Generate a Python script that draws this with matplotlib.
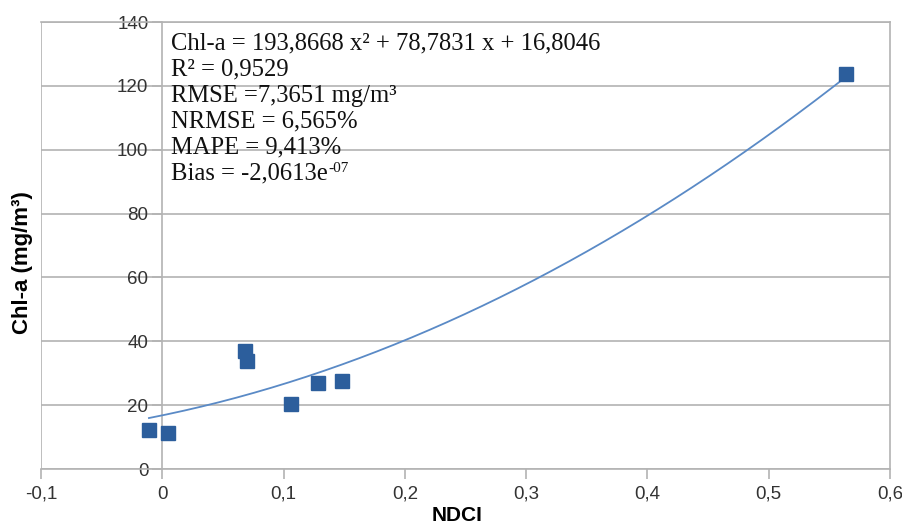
import numpy as np
import matplotlib
matplotlib.use("Agg")
import matplotlib.pyplot as plt

# dados
ndci = [-0.011, 0.005, 0.068, 0.070, 0.106, 0.128, 0.148, 0.564]
chla = [12.3, 11.4, 37.0, 33.8, 20.4, 26.9, 27.6, 123.7]

# ajuste polinomial (coeficientes do texto)
coef = [193.8668, 78.7831, 16.8046]

xticks = [-0.1, 0, 0.1, 0.2, 0.3, 0.4, 0.5, 0.6]
xtick_labels = ["-0,1", "0", "0,1", "0,2", "0,3", "0,4", "0,5", "0,6"]
yticks = [0, 20, 40, 60, 80, 100, 120, 140]

stats_lines = [
    "Chl-a = 193,8668 x² + 78,7831 x + 16,8046",
    "R² = 0,9529",
    "RMSE =7,3651 mg/m³",
    "NRMSE = 6,565%",
    "MAPE = 9,413%",
    "Bias = -2,0613e",
]
bias_exp = "-07"

grid_col = "#b3b3b3"

fig = plt.figure(figsize=(9.03, 5.26), dpi=100)
ax = fig.add_axes([41 / 903, 1 - 469 / 526, 849 / 903, 447 / 526])

ax.set_xlim(-0.1, 0.6)
ax.set_ylim(0, 140)

# linha de tendência
xs = np.linspace(min(ndci), max(ndci), 200)
ax.plot(xs, np.polyval(coef, xs), color="#5a8ac6", lw=1.3, zorder=3)

# pontos
ax.plot(ndci, chla, "s", color="#2c5e9c", markersize=10.5, zorder=4)

# grade e bordas
ax.set_yticks(yticks)
ax.set_xticks(xticks)
ax.set_xticklabels(xtick_labels)
ax.yaxis.grid(True, color=grid_col, lw=1.2)
ax.set_axisbelow(True)
for s in ["top", "right", "bottom", "left"]:
    ax.spines[s].set_color(grid_col)
    ax.spines[s].set_linewidth(1.2)
ax.spines["left"].set_position(("data", 0))
ax.axvline(-0.1, color=grid_col, lw=1.2, zorder=0)

ax.tick_params(axis="both", direction="out", length=7, width=1.2,
               color=grid_col, labelsize=13.5, labelcolor="#333333")
ax.tick_params(axis="y", pad=3)
ax.tick_params(axis="x", pad=5)
for lbl in ax.get_yticklabels() + ax.get_xticklabels():
    lbl.set_fontfamily("Liberation Sans")

ax.set_xlabel("NDCI", fontsize=15, fontweight="bold", family="Liberation Sans")
ax.xaxis.set_label_coords(0.49, -0.083)
ax.set_ylabel("Chl-a (mg/m³)", fontsize=16, fontweight="bold", family="Liberation Sans")
ax.yaxis.set_label_coords(-0.010, 0.462)

# texto das estatísticas
txts = []
for i, t in enumerate(stats_lines):
    txts.append(ax.text(0.153, 0.976 - i * 0.0582, t, transform=ax.transAxes,
                        fontsize=17.7, family="Liberation Serif", color="#111111",
                        va="top", ha="left"))

fig.canvas.draw()
bb = txts[-1].get_window_extent()
inv = ax.transAxes.inverted()
x1, y1 = inv.transform((bb.x1, bb.y1))
ax.text(x1 + 0.001, y1 + 0.002, bias_exp, transform=ax.transAxes, fontsize=11,
        family="Liberation Serif", color="#111111", va="top", ha="left")

fig.savefig("out.png", dpi=100)
